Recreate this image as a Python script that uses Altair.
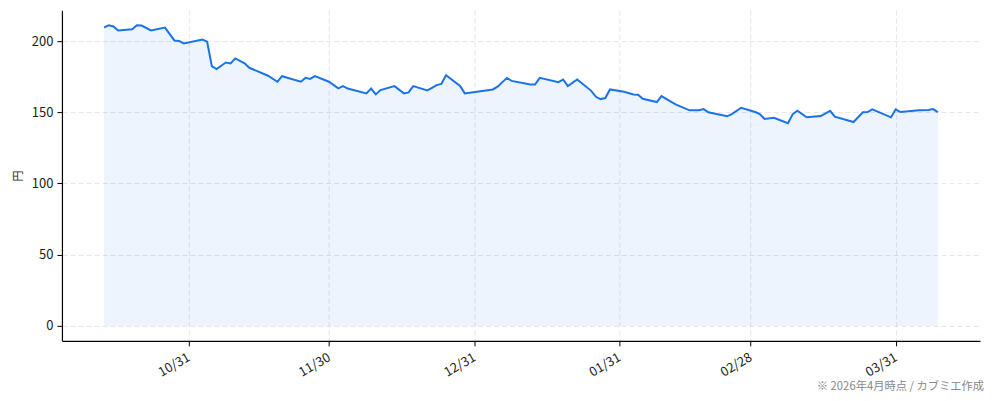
import altair as alt
import pandas as pd

dates = ["2025-10-13","2025-10-14","2025-10-15","2025-10-16","2025-10-19","2025-10-20","2025-10-21","2025-10-23","2025-10-26","2025-10-28","2025-10-29","2025-10-30",
         "2025-11-03","2025-11-04","2025-11-05","2025-11-06","2025-11-08","2025-11-09","2025-11-10","2025-11-12","2025-11-13","2025-11-17","2025-11-19","2025-11-20",
         "2025-11-24","2025-11-25","2025-11-26","2025-11-27","2025-11-30","2025-12-02","2025-12-03","2025-12-04","2025-12-08","2025-12-09","2025-12-10","2025-12-11",
         "2025-12-14","2025-12-16","2025-12-17","2025-12-18","2025-12-21","2025-12-22","2025-12-23","2025-12-24","2025-12-25","2025-12-28","2025-12-29",
         "2026-01-04","2026-01-05","2026-01-07","2026-01-08","2026-01-12","2026-01-13","2026-01-14","2026-01-18","2026-01-19","2026-01-20","2026-01-22",
         "2026-01-25","2026-01-26","2026-01-27","2026-01-28","2026-01-29","2026-02-01","2026-02-03","2026-02-04","2026-02-05","2026-02-08","2026-02-09",
         "2026-02-12","2026-02-15","2026-02-17","2026-02-18","2026-02-19","2026-02-23","2026-02-24","2026-02-26","2026-03-01","2026-03-02","2026-03-03",
         "2026-03-05","2026-03-08","2026-03-09","2026-03-10","2026-03-12","2026-03-15","2026-03-17","2026-03-18","2026-03-22","2026-03-24","2026-03-25",
         "2026-03-26","2026-03-30","2026-03-31","2026-04-01","2026-04-05","2026-04-07","2026-04-08","2026-04-09"]

prices = [209.6,211.2,210.3,207.5,208.4,211.2,211.0,207.5,209.5,200.5,200.2,198.4,
          201.2,199.6,182.5,180.4,185.0,184.4,187.9,184.4,181.3,
          175.7,171.5,175.4,171.5,174.2,173.5,175.4,171.5,
          166.8,168.4,166.7,163.3,166.7,162.6,165.6,168.4,163.3,164.0,168.4,
          165.4,167.2,169.1,170.0,176.1,168.6,163.3,
          166.1,168.0,174.2,172.1,169.5,169.5,174.2,171.2,173.1,168.4,173.1,
          165.1,160.9,159.3,160.0,166.1,
          164.4,162.6,162.3,159.5,157.2,161.4,155.6,
          151.4,151.4,152.3,150.0,147.2,148.8,153.2,
          150.2,148.8,145.3,146.2,142.3,148.6,151.1,146.5,147.4,151.1,147.0,143.2,
          150.0,150.2,152.1,146.5,152.1,150.2,151.4,151.6,152.3,150.2]

tick_dates = [(2025, 10, 31), (2025, 11, 30), (2025, 12, 31), (2026, 1, 31), (2026, 2, 28), (2026, 3, 31)]
y_ticks = [0, 50, 100, 150, 200]
footnote = "※ 2026年4月時点 / カブミエ作成"
y_title = "円"

df = pd.DataFrame({"date": [d + "T00:00:00" for d in dates], "price": prices})

FONT = "Noto Sans CJK JP"
BLUE = "#1a73e8"

x_enc = alt.X(
    "date:T",
    scale=alt.Scale(domain=[alt.DateTime(year=2025, month=10, date=4),
                            alt.DateTime(year=2026, month=4, date=18)], nice=False),
    axis=alt.Axis(
        values=[alt.DateTime(year=y, month=m, date=d) for (y, m, d) in tick_dates],
        format="%m/%d", labelAngle=330, labelAlign="right", labelBaseline="top",
        labelPadding=5, labelOffset=-3, title=None, grid=True,
    ),
)
y_scale = alt.Scale(domain=[-10.56, 221.76], nice=False, zero=False)

area = alt.Chart(df).mark_area(color=BLUE, opacity=0.08).encode(
    x=x_enc,
    y=alt.Y("price:Q", scale=y_scale,
            axis=alt.Axis(values=y_ticks, title=y_title, grid=True, titlePadding=8,
                          labelPadding=4)),
    y2=alt.datum(0),
)
line = alt.Chart(df).mark_line(color=BLUE, strokeWidth=2).encode(
    x="date:T",
    y="price:Q",
)

chart = alt.layer(area, line).properties(
    width=919, height=331,
    autosize=alt.AutoSizeParams(type="none"),
    padding={"left": 54, "top": 2, "right": 6, "bottom": 52},
    title=alt.TitleParams(footnote, orient="bottom", anchor="end", frame="group",
                          fontSize=11.3, font=FONT, color="#888888", fontWeight="normal",
                          offset=2, dx=4),
).configure(background="white").configure_view(stroke=None).configure_axis(
    domainColor="black", domainWidth=1.2, tickColor="black", tickSize=5, tickWidth=1,
    labelFont=FONT, labelFontSize=13, labelColor="#222222",
    titleFont=FONT, titleFontSize=11, titleColor="#222222", titleFontWeight="normal",
    gridColor="#dedede", gridDash=[5, 3], gridWidth=0.8,
)

chart.save("out.html", embed_options={"renderer": "svg", "actions": False})
